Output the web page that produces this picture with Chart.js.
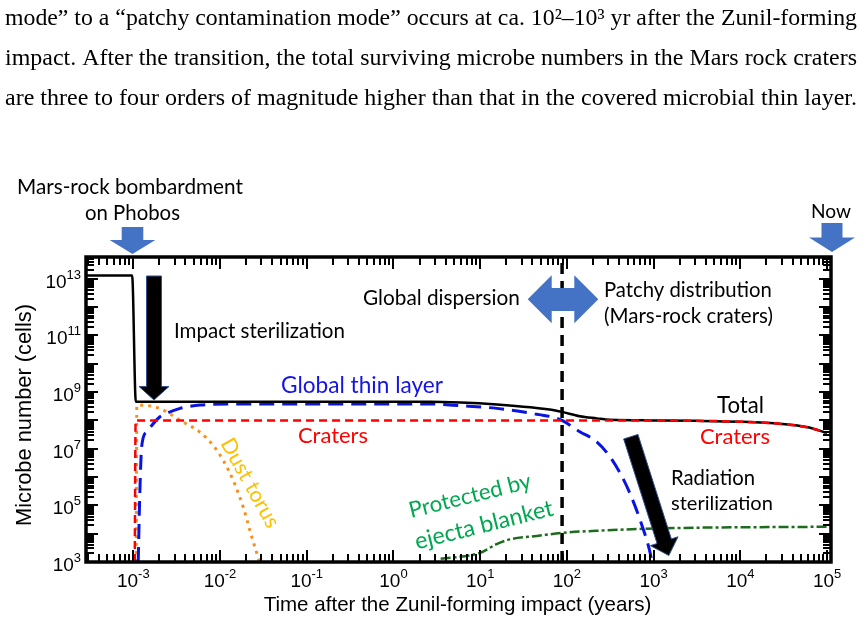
<!DOCTYPE html>
<html><head><meta charset="utf-8">
<script src="https://cdn.jsdelivr.net/npm/chart.js@4.4.1/dist/chart.umd.min.js"></script>
<style>html,body{margin:0;padding:0;background:#fff;}canvas{display:block;}</style>
</head><body>
<canvas id="c" width="863" height="622"></canvas>
<script>
// ===== DATA (x: years after impact, y: microbe number in cells) =====
const xMin = 2.85e-4, xMax = 1.11e5;
const yMin = 1e3, yMax = 5.9e13;
const xTickValues = [1e-3, 1e-2, 1e-1, 1e0, 1e1, 1e2, 1e3, 1e4, 1e5];
const yTickValues = [1e3, 1e5, 1e7, 1e9, 1e11, 1e13];

const totalX = [2.85e-4, 0.97e-3, 1.07e-3, 0.01, 2.6, 6, 15.6, 38, 76, 88, 141, 221, 314, 1e3, 3e3, 1e4, 3e4, 6e4, 8.5e4, 1e5];
const totalY = [1.3e13, 1.3e13, 4.6e8, 4.6e8, 4.6e8, 4.3e8, 3.66e8, 2.9e8, 2.2e8, 2.0e8, 1.4e8, 1.18e8, 1.05e8, 1e8, 9.7e7, 9e7, 7.5e7, 5.7e7, 4.2e7, 3.5e7];

const cratersX = [1.04e-3, 1.065e-3, 1e3, 3e3, 1e4, 3e4, 6e4, 8.5e4, 1e5];
const cratersY = [1e3, 1e8, 1e8, 9.7e7, 9e7, 7.5e7, 5.7e7, 4.2e7, 3.5e7];

const thinLayerX = [1.14e-3, 1.19e-3, 1.25e-3, 1.43e-3, 2.03e-3, 2.43e-3, 3.46e-3, 4.13e-3, 5.9e-3, 0.0141, 2.6, 6, 15.6, 38, 76, 88, 141, 221, 314, 410, 532, 700, 912, 955];
const thinLayerY = [1e3, 2.7e5, 1.2e7, 4e7, 1.35e8, 1.8e8, 2.66e8, 3e8, 3.5e8, 3.8e8, 3.8e8, 3.3e8, 2.66e8, 1.8e8, 1.2e8, 1.0e8, 4e7, 1.76e7, 5.2e6, 1.4e6, 2.7e5, 3e4, 2.1e3, 1e3];

const dustTorusX = [1.08e-3, 1.10e-3, 1.31e-3, 2.05e-3, 3.48e-3, 5.9e-3, 8.4e-3, 0.011, 0.0143, 0.0187, 0.0223, 0.0278, 0.0285];
const dustTorusY = [1e3, 3.4e8, 3.4e8, 2.6e8, 1e8, 3.8e7, 1.27e7, 3.7e6, 7.2e5, 8e4, 1.18e4, 1.3e3, 1e3];

const ejectaX = [3.5, 10, 15.5, 22, 45, 91, 221, 1290, 1e5];
const ejectaY = [1.3e3, 2.1e3, 4.3e3, 6.3e3, 8.3e3, 1.08e4, 1.27e4, 1.55e4, 1.76e4];

const transitionX = [88, 88];
const transitionY = [yMin, yMax];

// ===== helpers =====
const pts = (xs, ys) => xs.map((x, i) => ({x, y: ys[i]}));
const SANS = '"Liberation Sans", Arial, sans-serif';
const ANN = 'Lato, "Open Sans", sans-serif';
const SERIF = '"Liberation Serif", "Times New Roman", serif';

const paragraph = [
  'mode\u201D to a \u201Cpatchy contamination mode\u201D occurs at ca. 10\u00B2\u201310\u00B3 yr after the Zunil-forming',
  'impact. After the transition, the total surviving microbe numbers in the Mars rock craters',
  'are three to four orders of magnitude higher than that in the covered microbial thin layer.'
];

const labels = [
  {t:'Mars-rock bombardment', x:17, y:187, w:226, c:'#000'},
  {t:'on Phobos', x:85, y:213, w:95, c:'#000'},
  {t:'Now', x:811, y:212, w:40, c:'#000'},
  {t:'Global dispersion', x:363, y:298, w:157, c:'#000'},
  {t:'Patchy distribution', x:604, y:290, w:168, c:'#000'},
  {t:'(Mars-rock craters)', x:604, y:316, w:169, c:'#000'},
  {t:'Impact sterilization', x:174, y:331, w:171, c:'#000'},
  {t:'Global thin layer', x:281, y:386, w:162, c:'#1414E6'},
  {t:'Craters', x:298, y:436, w:70, c:'#FF0000'},
  {t:'Total', x:717, y:406, w:47, c:'#000'},
  {t:'Craters', x:700, y:437, w:70, c:'#FF0000'},
  {t:'Radiation', x:671, y:478, w:84, c:'#000'},
  {t:'sterilization', x:671, y:504, w:102, c:'#000'}
];
const rotLabels = [
  {t:'Dust torus', cx:250, cy:483, w:99, rot:61, c:'#FFC000'},
  {t:'Protected by', cx:470, cy:496, w:125, rot:-14, c:'#00A850'},
  {t:'ejecta blanket', cx:484, cy:525, w:142, rot:-14, c:'#00A850'}
];

function fitSize(ctx, text, w, fam) {
  ctx.font = '20px ' + fam;
  return 20 * w / ctx.measureText(text).width;
}
function arrowPoly(ctx, tx, ty, px, py, sw, hw, hl) {
  const L = Math.hypot(px - tx, py - ty), dx = (px - tx) / L, dy = (py - ty) / L;
  const nx = -dy, ny = dx, hx = px - dx * hl, hy = py - dy * hl;
  ctx.beginPath();
  ctx.moveTo(tx + nx * sw / 2, ty + ny * sw / 2);
  ctx.lineTo(hx + nx * sw / 2, hy + ny * sw / 2);
  ctx.lineTo(hx + nx * hw / 2, hy + ny * hw / 2);
  ctx.lineTo(px, py);
  ctx.lineTo(hx - nx * hw / 2, hy - ny * hw / 2);
  ctx.lineTo(hx - nx * sw / 2, hy - ny * sw / 2);
  ctx.lineTo(tx - nx * sw / 2, ty - ny * sw / 2);
  ctx.closePath();
}

const decor = {
  id: 'decor',
  afterDatasetsDraw(chart) {
    const ctx = chart.ctx, a = chart.chartArea;
    const xs = chart.scales.x, ys = chart.scales.y;
    ctx.save();
    // frame
    ctx.strokeStyle = '#000'; ctx.lineWidth = 3.5;
    ctx.strokeRect(a.left, a.top, a.right - a.left, a.bottom - a.top);
    // inward ticks on all sides
    ctx.lineWidth = 2;
    const drawLogTicks = (scale, isX) => {
      const e0 = Math.floor(Math.log10(scale.min)), e1 = Math.ceil(Math.log10(scale.max));
      for (let e = e0; e <= e1; e++) for (let k = 1; k <= 9; k++) {
        const v = k * Math.pow(10, e);
        if (v < scale.min || v > scale.max) continue;
        const p = Math.round(scale.getPixelForValue(v));
        const len = k === 1 ? 12 : 8;
        ctx.beginPath();
        if (isX) {
          ctx.moveTo(p, a.bottom); ctx.lineTo(p, a.bottom - len);
          ctx.moveTo(p, a.top); ctx.lineTo(p, a.top + len);
        } else {
          ctx.moveTo(a.left, p); ctx.lineTo(a.left + len, p);
          ctx.moveTo(a.right, p); ctx.lineTo(a.right - len, p);
        }
        ctx.stroke();
      }
    };
    drawLogTicks(xs, true); drawLogTicks(ys, false);
    // tick labels 10^n
    ctx.fillStyle = '#000'; ctx.textBaseline = 'alphabetic';
    const big = '19px ' + SANS, small = '13px ' + SANS;
    const expStr = v => { const e = Math.round(Math.log10(v)); return (e < 0 ? '-' : '') + Math.abs(e); };
    for (const v of xTickValues) {
      const p = xs.getPixelForValue(v);
      ctx.font = big; const w1 = ctx.measureText('10').width;
      ctx.font = small; const es = expStr(v), w2 = ctx.measureText(es).width;
      const x0 = p - (w1 + w2) / 2;
      ctx.font = big; ctx.textAlign = 'left'; ctx.fillText('10', x0, 587);
      ctx.font = small; ctx.fillText(es, x0 + w1, 578);
    }
    for (const v of yTickValues) {
      const p = ys.getPixelForValue(v);
      ctx.font = small; const es = expStr(v), w2 = ctx.measureText(es).width;
      ctx.font = big; const w1 = ctx.measureText('10').width;
      const xr = 81;
      ctx.textAlign = 'left';
      ctx.fillText('10', xr - w2 - w1, p + 9);
      ctx.font = small; ctx.fillText(es, xr - w2, p);
    }
    // axis titles
    let s = fitSize(ctx, 'Time after the Zunil-forming impact (years)', 388, SANS);
    ctx.font = s + 'px ' + SANS; ctx.textAlign = 'center'; ctx.textBaseline = 'middle';
    ctx.fillText('Time after the Zunil-forming impact (years)', 457.5, 605);
    s = fitSize(ctx, 'Microbe number (cells)', 222, SANS);
    ctx.save(); ctx.translate(25, 415); ctx.rotate(-Math.PI / 2);
    ctx.font = s + 'px ' + SANS; ctx.fillText('Microbe number (cells)', 0, 0); ctx.restore();

    // arrows
    ctx.fillStyle = '#4472C4';
    arrowPoly(ctx, 132.5, 227, 132.5, 254, 21.6, 45.7, 14); ctx.fill();
    arrowPoly(ctx, 832, 223, 832, 252, 21, 46, 14.5); ctx.fill();
    ctx.beginPath();
    [[527.7,299.3],[551.7,275.3],[551.7,288],[574.3,288],[574.3,275.3],[598.3,299.3],[574.3,323.3],[574.3,311],[551.7,311],[551.7,323.3]]
      .forEach((q, i) => i ? ctx.lineTo(q[0], q[1]) : ctx.moveTo(q[0], q[1]));
    ctx.closePath(); ctx.fill();
    ctx.fillStyle = '#000'; ctx.strokeStyle = '#2F528F'; ctx.lineWidth = 1;
    arrowPoly(ctx, 154, 276, 154, 400, 15, 30, 13.5); ctx.fill(); ctx.stroke();
    arrowPoly(ctx, 630.8, 436.7, 668.8, 555.5, 15, 29, 15); ctx.fill(); ctx.stroke();

    // text annotations
    ctx.textAlign = 'left'; ctx.textBaseline = 'middle';
    for (const l of labels) {
      const sz = fitSize(ctx, l.t, l.w, ANN);
      ctx.font = sz + 'px ' + ANN; ctx.fillStyle = l.c;
      ctx.fillText(l.t, l.x, l.y);
    }
    ctx.textAlign = 'center';
    for (const l of rotLabels) {
      const sz = fitSize(ctx, l.t, l.w, ANN);
      ctx.save(); ctx.translate(l.cx, l.cy); ctx.rotate(l.rot * Math.PI / 180);
      ctx.font = sz + 'px ' + ANN; ctx.fillStyle = l.c; ctx.fillText(l.t, 0, 0);
      ctx.restore();
    }
    // paragraph
    ctx.fillStyle = '#000'; ctx.textAlign = 'left'; ctx.textBaseline = 'alphabetic';
    ctx.font = '23px ' + SERIF;
    paragraph.forEach((line, i) => {
      const w = ctx.measureText(line).width;
      ctx.save(); ctx.translate(5, 25 + 40 * i); ctx.scale(852 / w, 1);
      ctx.fillText(line, 0, 0); ctx.restore();
    });
    ctx.restore();
  }
};

new Chart(document.getElementById('c'), {
  type: 'line',
  data: {
    datasets: [
      {label:'Craters', data: pts(cratersX, cratersY), borderColor:'#FF0000', borderDash:[8,5], borderWidth:2.5, order:0},
      {label:'Total', data: pts(totalX, totalY), borderColor:'#000000', borderWidth:2.5, order:1},
      {label:'Global thin layer', data: pts(thinLayerX, thinLayerY), borderColor:'#0A14E0', borderDash:[15,8], borderWidth:3, order:2},
      {label:'Dust torus', data: pts(dustTorusX, dustTorusY), borderColor:'#F7901E', borderDash:[3,5], borderWidth:3, order:3},
      {label:'Protected by ejecta blanket', data: pts(ejectaX, ejectaY), borderColor:'#1D6B1D', borderDash:[10,3,3,3], borderWidth:2.5, order:4},
      {label:'Transition', data: pts(transitionX, transitionY), borderColor:'#000000', borderDash:[11,7], borderWidth:3.5, tension:0, cubicInterpolationMode:'default', order:5}
    ]
  },
  options: {
    responsive: false, animation: false, devicePixelRatio: 1,
    elements: { point: { radius: 0 }, line: { cubicInterpolationMode: 'monotone', fill: false } },
    layout: { padding: { top: 257, right: 32, left: 0, bottom: 0 } },
    plugins: { legend: { display: false }, tooltip: { enabled: false } },
    scales: {
      x: { type: 'logarithmic', min: xMin, max: xMax, ticks: { display: false }, grid: { display: false }, border: { display: false },
           afterBuildTicks(s) { s.ticks = xTickValues.map(v => ({value: v})); }, afterFit(s) { s.height = 60; } },
      y: { type: 'logarithmic', min: yMin, max: yMax, ticks: { display: false }, grid: { display: false }, border: { display: false },
           afterBuildTicks(s) { s.ticks = yTickValues.map(v => ({value: v})); }, afterFit(s) { s.width = 86; } }
    }
  },
  plugins: [decor]
});
</script>
</body></html>
